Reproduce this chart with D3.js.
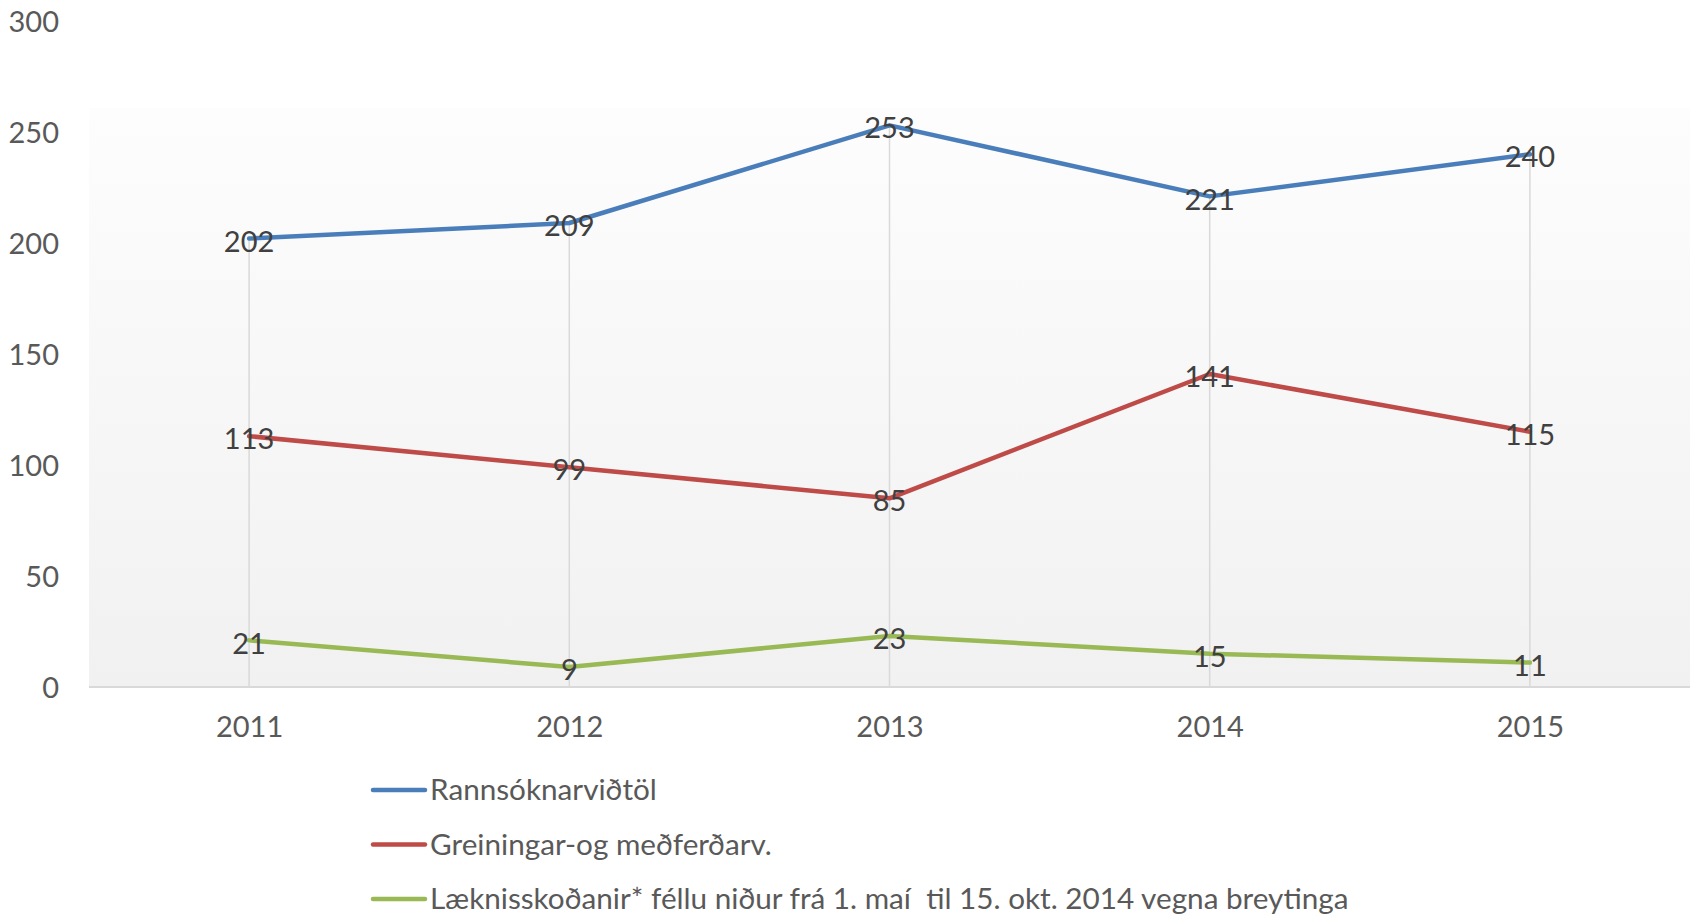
<!DOCTYPE html>
<html>
<head>
<meta charset="utf-8">
<script src="https://cdn.jsdelivr.net/npm/d3@7"></script>
<style>
  body { margin: 0; background: #fff; }
  svg text { font-family: Lato, "Open Sans", sans-serif; fill: #595959; }
</style>
</head>
<body>
<div id="chart"></div>
<script>
// chart data
var years = ["2011", "2012", "2013", "2014", "2015"];
var seriesNames = [
  "Rannsóknarviðtöl",
  "Greiningar-og meðferðarv.",
  "Læknisskoðanir* féllu niður frá 1. maí  til 15. okt. 2014 vegna breytinga"
];
var rannsoknir = [202, 209, 253, 221, 240];
var greiningar = [113, 99, 85, 141, 115];
var laeknis = [21, 9, 23, 15, 11];
var yTicks = [0, 50, 100, 150, 200, 250, 300];

var colors = ["#4a7ebb", "#be4b48", "#98b954"];

let width = 1696;
let height = 917;

var plot = {left: 89, right: 1690, top: 108, bottom: 687};

var svg = d3.select("#chart")
  .append("svg")
    .attr("width", width)
    .attr("height", height);

var x = d3.scalePoint()
  .domain(years)
  .range([plot.left, plot.right])
  .padding(0.5);

var y = d3.scaleLinear()
  .domain([0, 300])
  .range([plot.bottom, 21]);

// plot area background gradient
var grad = svg.append("defs")
  .append("linearGradient")
    .attr("id", "bg")
    .attr("x1", 0).attr("y1", 0)
    .attr("x2", 0).attr("y2", 1);
grad.append("stop").attr("offset", "0%").attr("stop-color", "#fdfdfd");
grad.append("stop").attr("offset", "100%").attr("stop-color", "#f1f1f1");

svg.append("rect")
  .attr("x", plot.left)
  .attr("y", plot.top)
  .attr("width", plot.right - plot.left)
  .attr("height", plot.bottom - plot.top)
  .attr("fill", "url(#bg)");

var series = [rannsoknir, greiningar, laeknis].map(function (vals, i) {
  return {
    name: seriesNames[i],
    color: colors[i],
    values: years.map(function (yr, j) { return {year: yr, value: vals[j]}; })
  };
});

// drop lines from the highest point down to the axis
svg.append("g")
  .selectAll("line")
  .data(years)
  .join("line")
    .attr("x1", function (d) { return x(d); })
    .attr("x2", function (d) { return x(d); })
    .attr("y1", function (d, i) {
      return y(d3.max(series, function (s) { return s.values[i].value; }));
    })
    .attr("y2", y(0))
    .attr("stroke", "#d9d9d9")
    .attr("stroke-width", 1.5);

// category axis line
svg.append("line")
  .attr("x1", plot.left)
  .attr("x2", plot.right)
  .attr("y1", y(0))
  .attr("y2", y(0))
  .attr("stroke", "#d9d9d9")
  .attr("stroke-width", 2);

// y axis
var yAxis = svg.append("g")
  .attr("transform", "translate(" + plot.left + ",0)")
  .call(d3.axisLeft(y).tickValues(yTicks).tickSize(0).tickPadding(30));
yAxis.select(".domain").remove();
yAxis.selectAll("text")
  .attr("dy", "0.35em")
  .style("font-size", "29px")
  .style("fill", "#595959");

// x axis
var xAxis = svg.append("g")
  .attr("transform", "translate(0," + y(0) + ")")
  .call(d3.axisBottom(x).tickSize(0));
xAxis.select(".domain").remove();
xAxis.selectAll("text")
  .attr("y", 40)
  .attr("dy", "0.35em")
  .style("font-size", "29px")
  .style("fill", "#595959");

// lines
var line = d3.line()
  .x(function (d) { return x(d.year); })
  .y(function (d) { return y(d.value); });

svg.append("g")
  .selectAll("path")
  .data(series)
  .join("path")
    .attr("d", function (d) { return line(d.values); })
    .attr("fill", "none")
    .attr("stroke", function (d) { return d.color; })
    .attr("stroke-width", 4.5)
    .attr("stroke-linejoin", "round")
    .attr("stroke-linecap", "round");

// data labels
svg.append("g")
  .selectAll("g")
  .data(series)
  .join("g")
  .selectAll("text")
  .data(function (d) { return d.values; })
  .join("text")
    .attr("x", function (d) { return x(d.year); })
    .attr("y", function (d) { return y(d.value) + 3; })
    .attr("dy", "0.35em")
    .attr("text-anchor", "middle")
    .style("font-size", "29px")
    .style("fill", "#404040")
    .text(function (d) { return d.value; });

// legend
var legend = svg.append("g")
  .selectAll("g")
  .data(series)
  .join("g")
    .attr("transform", function (d, i) {
      return "translate(373," + (790 + i * 54.5) + ")";
    });

legend.append("line")
  .attr("x1", 0)
  .attr("x2", 52)
  .attr("stroke", function (d) { return d.color; })
  .attr("stroke-width", 4.5)
  .attr("stroke-linecap", "round");

legend.append("text")
  .attr("x", 57)
  .attr("dy", "0.35em")
  .style("font-size", "29.7px")
  .style("fill", "#595959")
  .style("white-space", "pre")
  .text(function (d) { return d.name; });
</script>
</body>
</html>
